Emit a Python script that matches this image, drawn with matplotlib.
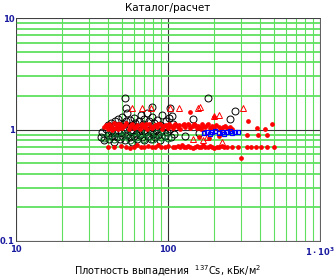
import matplotlib
matplotlib.use("Agg")
import matplotlib.pyplot as plt
from matplotlib.ticker import FixedLocator, LogLocator, NullFormatter

# черные кружки
bk_x = [36, 37, 38, 39, 40, 40, 41, 42, 42, 43,
        44, 44, 45, 45, 46, 47, 47, 48, 48, 49,
        50, 50, 51, 52, 52, 53, 54, 54, 55, 56,
        56, 57, 58, 58, 59, 60, 60, 61, 62, 63,
        63, 64, 65, 66, 66, 67, 68, 69, 70, 70,
        71, 72, 73, 74, 75, 76, 77, 78, 79, 80,
        81, 82, 84, 85, 86, 88, 89, 90, 92, 94,
        95, 97, 99, 101, 103, 105, 108, 110, 112, 52,
        53, 78, 103, 106, 146, 183, 255, 276, 160, 130]
bk_y = [0.85, 0.95, 0.80, 1.02, 0.90, 1.10, 0.83, 0.97, 1.15, 0.88,
        1.05, 0.78, 0.93, 1.20, 0.86, 1.00, 1.25, 0.82, 1.08, 0.95,
        0.88, 1.30, 1.12, 0.80, 0.98, 1.18, 0.90, 1.40, 1.05, 0.85,
        1.22, 0.95, 1.10, 0.78, 1.00, 0.88, 1.28, 1.15, 0.92, 0.82,
        1.05, 1.20, 0.90, 1.35, 0.98, 0.86, 1.12, 1.00, 0.80, 1.25,
        0.94, 1.08, 1.42, 0.88, 1.18, 0.98, 0.83, 1.05, 1.30, 0.92,
        1.15, 0.86, 1.00, 1.22, 0.90, 1.10, 0.80, 0.96, 1.35, 1.05,
        0.88, 1.18, 0.95, 1.28, 1.02, 0.85, 1.12, 0.92, 1.05, 1.90,
        1.55, 1.58, 1.55, 1.32, 1.23, 1.93, 1.23, 1.48, 0.93, 0.88]

# темно-зеленые кружки
gr_x = [38, 41, 44, 47, 50, 53, 56, 59, 62, 65, 68, 72, 76, 80, 85, 90, 95, 100]
gr_y = [0.84, 0.90, 0.82, 0.95, 0.87, 0.92, 0.80, 0.97, 0.86, 0.91,
        0.83, 0.95, 0.88, 0.82, 0.93, 0.86, 0.90, 0.84]

# красные точки (верхняя полоса)
rh_x = [38, 39, 40, 41, 42, 43, 44, 45, 46, 47,
        48, 49, 50, 52, 53, 55, 56, 58, 60, 62,
        63, 65, 67, 69, 71, 73, 75, 77, 79, 82,
        85, 88, 91, 94, 97, 100, 104, 108, 112, 116,
        120, 125, 130, 135, 140, 145, 150, 155, 160, 165,
        170, 176, 182, 188, 195, 200, 208, 215, 222, 230,
        238, 246, 255, 265, 385, 435, 484, 335, 140, 200,
        39, 43, 47, 51, 57, 61, 66, 72, 78, 86,
        93, 102, 110, 118, 128, 138, 148, 158, 168, 180]
rh_y = [1.05, 1.10, 1.02, 1.12, 1.07, 1.00, 1.14, 1.04, 1.09, 1.01,
        1.12, 1.06, 1.03, 1.10, 1.15, 1.02, 1.08, 1.12, 1.04, 1.06,
        1.10, 1.01, 1.13, 1.05, 1.08, 1.02, 1.11, 1.06, 1.03, 1.09,
        1.05, 1.12, 1.02, 1.07, 1.10, 1.04, 1.08, 1.03, 1.11, 1.06,
        1.02, 1.09, 1.05, 1.12, 1.03, 1.07, 1.10, 1.04, 1.06, 1.02,
        1.08, 1.05, 1.11, 1.03, 1.07, 1.04, 1.09, 1.06, 1.02, 1.05,
        1.08, 1.03, 1.06, 1.02, 1.03, 1.02, 1.12, 1.20, 1.45, 1.30,
        1.08, 1.04, 1.12, 1.07, 1.10, 1.05, 1.09, 1.13, 1.06, 1.11,
        1.08, 1.12, 1.07, 1.10, 1.13, 1.09, 1.12, 1.08, 1.11, 1.09]

# красные точки (нижняя полоса и прочие)
rl_x = [40, 44, 49, 53, 56, 60, 63, 66, 70, 74,
        78, 82, 86, 90, 95, 100, 108, 112, 116, 120,
        124, 128, 132, 136, 140, 145, 150, 155, 160, 165,
        170, 176, 182, 188, 195, 202, 210, 218, 226, 235,
        245, 262, 290, 330, 350, 380, 410, 450, 500, 300,
        330, 390, 445, 160, 185, 215]
rl_y = [0.70, 0.69, 0.71, 0.70, 0.68, 0.70, 0.72, 0.69, 0.70, 0.71,
        0.69, 0.70, 0.72, 0.70, 0.69, 0.71, 0.70, 0.69, 0.71, 0.70,
        0.72, 0.69, 0.70, 0.71, 0.70, 0.68, 0.70, 0.71, 0.69, 0.70,
        0.72, 0.70, 0.69, 0.71, 0.70, 0.68, 0.70, 0.69, 0.71, 0.70,
        0.69, 0.70, 0.70, 0.69, 0.70, 0.70, 0.70, 0.69, 0.70, 0.56,
        0.90, 0.90, 0.90, 0.86, 0.84, 0.87]

# красные треугольники
tr_x = [58, 67, 77, 103, 118, 158, 163, 200, 217, 310, 146, 170, 225, 180]
tr_y = [1.55, 1.55, 1.55, 1.55, 1.55, 1.55, 1.58, 1.32, 1.35, 1.55, 0.82, 0.80, 0.77, 0.85]

# синие квадраты
bs_x = [172, 180, 188, 196, 205, 215, 225, 235, 245, 255, 265, 278, 290]
bs_y = [0.93, 0.95, 0.92, 0.94, 0.96, 0.93, 0.95, 0.92, 0.94, 0.96, 0.93, 0.95, 0.94]

fig = plt.figure(figsize=(3.36, 2.78), dpi=100)
ax = fig.add_axes([16 / 336, 1 - 241 / 278, 304 / 336, 223 / 278])
ax.set_xscale("log")
ax.set_yscale("log")
ax.set_xlim(10, 1000)
ax.set_ylim(0.1, 10)

# сетка
green = "#5fe05f"
ax.xaxis.set_minor_locator(LogLocator(base=10, subs=range(2, 10)))
ax.yaxis.set_minor_locator(LogLocator(base=10, subs=range(2, 10)))
ax.xaxis.set_minor_formatter(NullFormatter())
ax.yaxis.set_minor_formatter(NullFormatter())
ax.xaxis.grid(True, which="minor", color=green, lw=0.8)
ax.yaxis.grid(True, which="minor", color=green, lw=1.3)
ax.xaxis.grid(True, which="major", color="#333333", lw=0.8)
ax.yaxis.grid(True, which="major", color="#333333", lw=0.8)
ax.set_axisbelow(True)

ax.plot(bk_x, bk_y, "o", mfc="none", mec="black", mew=0.7, markersize=5, ls="none")
ax.plot(gr_x, gr_y, "o", mfc="none", mec="#0a6a2a", mew=0.7, markersize=5, ls="none")
ax.plot(rl_x, rl_y, "o", color="red", markersize=2.4, ls="none")
ax.plot(rh_x, rh_y, "o", color="red", markersize=2.4, ls="none")
ax.plot(tr_x, tr_y, "^", mfc="none", mec="red", mew=0.7, markersize=5, ls="none")
ax.plot(bs_x, bs_y, "s", mfc="none", mec="blue", mew=0.9, markersize=3.5, ls="none")

# подписи осей
ax.xaxis.set_major_locator(FixedLocator([10, 100, 1000]))
ax.yaxis.set_major_locator(FixedLocator([0.1, 1, 10]))
ax.set_xticklabels(["10", "100", r"$\mathbf{1\cdot10^3}$"])
ax.set_yticklabels(["0.1", "1", "10"])
ax.tick_params(which="both", length=0, labelsize=6, labelcolor="#1a1aa0")
ax.tick_params(axis="y", pad=1)
ax.tick_params(axis="x", pad=3)
for t in ax.get_xticklabels() + ax.get_yticklabels():
    t.set_fontweight("bold")

for s in ax.spines.values():
    s.set_linewidth(0.6)
    s.set_color("#444444")

ax.set_title("Каталог/расчет", fontsize=7.5, pad=5)
ax.set_xlabel(r"Плотность выпадения  $^{137}$Cs, кБк/м$^2$", fontsize=7, labelpad=4)

fig.savefig("out.png", dpi=100)
